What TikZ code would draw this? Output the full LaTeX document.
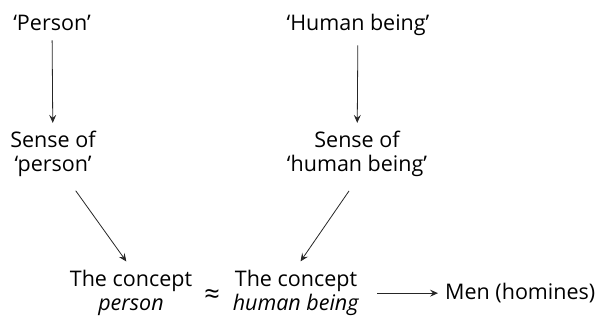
\documentclass[tikz,border=0pt]{standalone}
\usepackage{fontspec}
\setmainfont{Open Sans}
\usetikzlibrary{arrows.meta, positioning, calc}

\begin{document}
\begin{tikzpicture}[x=1pt, y=1pt,
  term/.style={font=\fontsize{21.5}{24.5}\selectfont, align=center, inner sep=2pt},
  link/.style={-{Stealth[length=8pt, width=7pt, inset=3pt]}, line width=0.8pt, black!85}]
  \useasboundingbox (0,0) rectangle (598,324);

  % Words
  \node[term, anchor=base] (person) at (52, 293) {‘Person’};
  \node[term, anchor=base] (human) at (358, 293) {‘Human being’};

  % Senses (base = last line)
  \node[term, anchor=base] (sensep) at (53, 152) {Sense of\\‘person’};
  \node[term, anchor=base] (senseh) at (357, 152) {Sense of\\‘human being’};

  % Concepts
  \node[term, anchor=base] (conp) at (131, 13) {The concept\\\textit{person}};
  \node[term, anchor=base] (conh) at (296, 13) {The concept\\\textit{human being}};
  \node[term, font=\fontsize{27}{27}\selectfont] (approx) at (212, 27) {≈};
  \node[term, anchor=base west] (men) at (443, 24) {Men (homines)};

  % Arrows
  \draw[link, shorten <=7pt, shorten >=6pt] (person) -- (sensep);
  \draw[link, shorten <=7pt, shorten >=6pt] (human) -- (senseh);
  \draw[link, shorten <=14pt, shorten >=8pt] (sensep.-60) -- (conp.north);
  \draw[link, shorten <=14pt, shorten >=8pt] (senseh.south) -- (conh.north);
  \draw[link, shorten <=16pt, shorten >=5pt] (conh.east) -- (conh.east -| men.west);
\end{tikzpicture}
\end{document}
